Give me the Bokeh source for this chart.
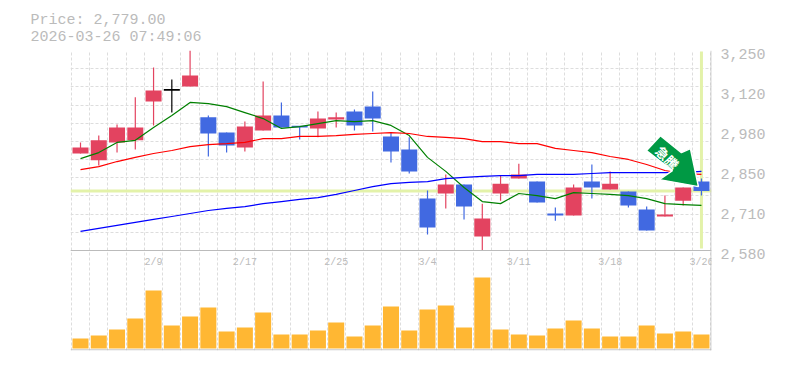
from bokeh.embed import file_html
from bokeh.resources import INLINE
from bokeh.plotting import figure
from bokeh.models import Range1d, LinearAxis, FixedTicker, ColumnDataSource, Grid, Span, Title
from bokeh.core.properties import value

title_lines = ["Price: 2,779.00", "2026-03-26 07:49:06"]
opens  = [2905,2882,2942,2949,3079,3115,3129,3026,2975,2925,2982,3032,2995,2989,3019,3046,3062,2962,2918,2754,2771,2801,2627,2771,2821,2811,2704,2697,2811,2784,2778,2717,2694,2747,2811]
highs  = [2942,2965,3002,3093,3193,3153,3250,3032,2975,3012,3146,3076,2995,3046,3042,3052,3113,2975,2959,2781,2835,2801,2737,2831,2871,2811,2724,2801,2868,2845,2778,2727,2764,2791,2821]
lows   = [2905,2865,2908,2918,2999,3042,3129,2895,2908,2912,2982,2992,2952,2959,2992,2982,2979,2875,2838,2634,2721,2684,2580,2747,2821,2741,2680,2697,2754,2784,2724,2647,2694,2731,2764]
closes = [2925,2949,2992,2992,3116,3115,3166,2972,2932,2995,3032,2992,2992,3022,3026,2999,3022,2912,2845,2657,2801,2727,2687,2804,2835,2741,2697,2791,2791,2804,2731,2647,2701,2791,2779]
ma_green = [2888,2908,2942,2949,2992,3032,3076,3072,3062,3042,3022,2989,2995,3005,3015,3012,3015,2999,2965,2892,2845,2791,2744,2737,2771,2764,2754,2774,2771,2768,2764,2754,2737,2734,2731]
ma_red   = [2851,2861,2878,2892,2905,2915,2928,2935,2938,2942,2955,2955,2962,2962,2965,2969,2972,2975,2972,2962,2959,2955,2945,2945,2938,2938,2922,2915,2908,2895,2885,2868,2848,2838,2835]
ma_blue  = [2644,2654,2664,2674,2684,2694,2704,2714,2721,2727,2737,2744,2751,2757,2768,2781,2794,2804,2808,2811,2821,2825,2828,2831,2831,2835,2835,2835,2838,2841,2841,2841,2841,2841,2845]
volumes  = [10,13,19,30,58,23,32,41,17,21,36,14,14,18,26,12,23,42,18,39,43,21,71,19,14,13,20,28,20,12,12,23,15,17,14]
date_idx = [4,9,14,19,24,29,34]
date_labels = ["2/9","2/17","2/25","3/4","3/11","3/18","3/26"]
price_ticks = [3250,3116,2982,2848,2714,2580]
price_labels = ["3,250","3,120","2,980","2,850","2,710","2,580"]
last_price = 2779

GRAY = "#bbbbbb"; GRID = "#dddddd"; RED = "#e34360"; BLUE = "#4169e1"; BAND = "#e3f2a9"
FONT = "Liberation Mono"
PX_X = 18.235            # pixels per candle
PX_Y = 3.35              # price per pixel
n = len(opens)
xs = list(range(n))

p = figure(width=777, height=362, output_backend="svg", toolbar_location=None,
           x_range=Range1d(-0.548, 34.55), y_range=Range1d(2245, 3250),
           min_border_left=70, min_border_right=66, min_border_top=50, min_border_bottom=12,
           outline_line_color=None, background_fill_color="white", border_fill_color="white")
p.xaxis.visible = False
p.yaxis.visible = False
p.xgrid.visible = False
p.ygrid.visible = False

p.extra_y_ranges = {"vol": Range1d(-2, 298), "lab": Range1d(2245 + 3 * PX_Y, 3250 + 3 * PX_Y)}

# grid
vg = Grid(dimension=0, ticker=FixedTicker(ticks=[i - 0.5 for i in range(n + 1)]),
          grid_line_color=GRID, grid_line_dash="3 2", grid_line_width=1)
hg = Grid(dimension=1, ticker=FixedTicker(ticks=[3250 - i * 670 / 11 for i in range(12)]),
          grid_line_color=GRID, grid_line_dash="3 2", grid_line_width=1)
p.add_layout(vg); p.add_layout(hg)

# panel borders
for level_price in (2580, 2245 + 2):
    p.add_layout(Span(location=level_price, dimension="width", line_color=GRAY, line_width=1))
p.add_layout(Span(location=34.53, dimension="height", line_color=GRAY, line_width=1))

# price marker bands
p.segment(x0=[-0.548], x1=[34.55], y0=[last_price], y1=[last_price], line_color=BAND, line_width=3)
p.segment(x0=[n - 1], x1=[n - 1], y0=[2587], y1=[3247], line_color=BAND, line_width=3)

# volume
p.vbar(x=xs, top=volumes, bottom=0, width=16 / PX_X, fill_color="#ffb733", line_color=None, y_range_name="vol")

# candles
cols = []
for o, c in zip(opens, closes):
    cols.append("#000000" if o == c else (RED if c > o else BLUE))
src = ColumnDataSource(dict(x=xs, o=opens, h=highs, l=lows, c=closes, col=cols,
    top=[max(max(o, c), min(o, c) + 6) for o, c in zip(opens, closes)], bot=[min(o, c) for o, c in zip(opens, closes)]))
p.segment("x", "h", "x", "l", source=src, line_color="col", line_width=1.2)
p.vbar(x="x", top="top", bottom="bot", width=16 / PX_X, fill_color="col", line_color=None, source=src)

# moving averages
p.line(xs, ma_green, line_color="#008000", line_width=1.2)
p.line(xs, ma_red, line_color="#ff0000", line_width=1.2)
p.line(xs, ma_blue, line_color="#0000ff", line_width=1.2)

# arrow annotation, offsets in px from its tip beside the last candle
tip_x, tip_y = n - 1 - 3 / PX_X, last_price + 15
shape = [(0, 0), (-39, -7), (-26, -16), (-52, -36), (-38, -51), (-17, -34), (-8, -38)]
p.patch([tip_x + dx / PX_X for dx, dy in shape], [tip_y - dy * PX_Y for dx, dy in shape],
        fill_color="#009944", line_color="white", line_width=1.5)
p.text(x=[tip_x - 31 / PX_X], y=[tip_y + 29 * PX_Y], text=["急騰"], angle=[-0.785],
       text_color="white", text_align="center", text_baseline="middle",
       text_font=value("Noto Sans CJK JP"), text_font_style="bold", text_font_size="13px")

# date labels
p.text(x=date_idx, y=[86] * len(date_idx), text=date_labels, y_range_name="vol",
       text_color=GRAY, text_align="center", text_baseline="middle",
       text_font=value(FONT), text_font_size="10px")

# price axis labels
ax = LinearAxis(y_range_name="lab", ticker=FixedTicker(ticks=price_ticks),
                major_label_overrides={t: l for t, l in zip(price_ticks, price_labels)},
                axis_line_color=None, major_tick_line_color=None, minor_tick_line_color=None,
                major_label_text_color=GRAY, major_label_text_font=FONT, major_label_text_font_size="15px",
                major_label_standoff=3)
p.add_layout(ax, "right")

# header
p.add_layout(Title(text="\n".join(title_lines), align="left", offset=-40, standoff=9,
                   text_color=GRAY, text_font=FONT, text_font_size="15px", text_font_style="normal",
                   text_line_height=1.0), "above")

open("out.html", "w").write(file_html(p, INLINE))
